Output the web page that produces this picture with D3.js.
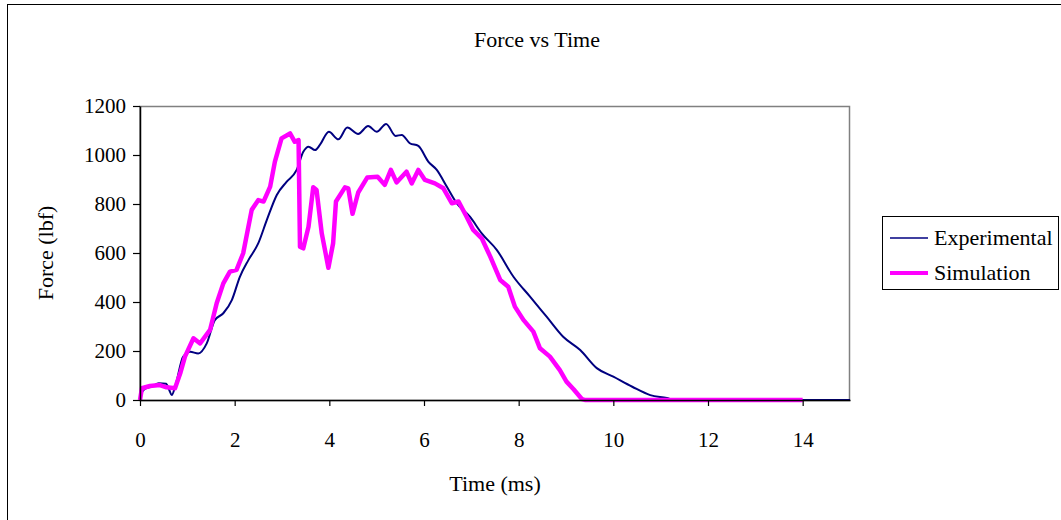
<!DOCTYPE html>
<html>
<head>
<meta charset="utf-8">
<script src="https://cdn.jsdelivr.net/npm/d3@7"></script>
<style>
  body { margin: 0; background: #fff; }
  text { font-family: "Times New Roman", "Liberation Serif", serif; fill: #000; }
</style>
</head>
<body>
<div id="chart"></div>
<script>
// data: time in ms, force in lbf
var expTime  = [0, 0.1, 0.25, 0.4, 0.55, 0.62, 0.67, 0.75, 0.91, 1.06, 1.23, 1.41, 1.58, 1.76, 1.94, 2.11, 2.29, 2.5, 2.68, 2.89, 3.1, 3.31, 3.45, 3.56, 3.7, 3.8, 3.99, 4.19, 4.38, 4.61, 4.82, 5.0, 5.2, 5.4, 5.53, 5.7, 5.88, 6.09, 6.27, 6.48, 6.69, 6.97, 7.22, 7.54, 7.89, 8.24, 8.59, 8.94, 9.3, 9.65, 10.0, 10.4, 10.78, 11.13, 11.3, 15];
var expForce = [20, 45, 55, 68, 66, 40, 20, 60, 176, 197, 190, 231, 326, 354, 408, 503, 571, 640, 735, 837, 891, 939, 1013, 1034, 1020, 1041, 1095, 1064, 1112, 1086, 1118, 1095, 1127, 1078, 1082, 1048, 1037, 973, 939, 871, 803, 748, 680, 612, 503, 422, 340, 258, 204, 130, 95, 54, 20, 8, 0, 0];

var simTime  = [0, 0.04, 0.21, 0.42, 0.56, 0.74, 0.85, 0.95, 1.13, 1.27, 1.48, 1.62, 1.76, 1.9, 2.04, 2.18, 2.36, 2.5, 2.61, 2.75, 2.85, 2.99, 3.17, 3.27, 3.35, 3.38, 3.45, 3.56, 3.66, 3.73, 3.84, 3.98, 4.08, 4.14, 4.33, 4.4, 4.49, 4.61, 4.8, 5.02, 5.17, 5.3, 5.42, 5.63, 5.74, 5.88, 6.02, 6.23, 6.41, 6.59, 6.73, 6.9, 7.04, 7.22, 7.4, 7.61, 7.78, 7.92, 8.1, 8.31, 8.45, 8.66, 8.87, 9.01, 9.16, 9.33, 9.4, 14];
var simForce = [0, 48, 57, 61, 52, 48, 109, 177, 252, 231, 286, 395, 476, 524, 531, 599, 776, 816, 810, 871, 973, 1068, 1088, 1054, 1061, 626, 619, 707, 868, 857, 680, 540, 640, 810, 868, 864, 760, 847, 908, 911, 878, 939, 888, 932, 884, 939, 898, 884, 864, 803, 810, 748, 694, 660, 585, 490, 462, 381, 327, 279, 211, 177, 122, 75, 44, 5, 0, 0];

var xTicks = [0, 2, 4, 6, 8, 10, 12, 14];
var yTicks = [0, 200, 400, 600, 800, 1000, 1200];

var seriesNames  = ["Experimental", "Simulation"];
var seriesColors = ["#000080", "#ff00ff"];
var seriesWidths = [2, 4.5];

var W = 1061, H = 520;
var plot = {left: 140, top: 106, right: 850, bottom: 400};

var x = d3.scaleLinear().domain([0, 15]).range([plot.left, plot.right]);
var y = d3.scaleLinear().domain([0, 1200]).range([plot.bottom, plot.top]);

var svg = d3.select("#chart").append("svg")
    .attr("width", W)
    .attr("height", H);

// outer chart border
svg.append("rect")
    .attr("x", 7.5).attr("y", 4.5)
    .attr("width", 1100).attr("height", 600)
    .attr("fill", "#fff")
    .attr("stroke", "#000");

// plot area frame (grey)
svg.append("rect")
    .attr("x", plot.left).attr("y", plot.top + 0.5)
    .attr("width", plot.right - plot.left - 0.5)
    .attr("height", plot.bottom - plot.top)
    .attr("fill", "none")
    .attr("stroke", "#808080")
    .attr("stroke-width", 1.5);

var expLine = d3.line()
    .curve(d3.curveMonotoneX)
    .x(function(d) { return x(d[0]); })
    .y(function(d) { return y(d[1]); });

var simLine = d3.line()
    .x(function(d) { return x(d[0]); })
    .y(function(d) { return y(d[1]); });

var expData = d3.zip(expTime, expForce);
var simData = d3.zip(simTime, simForce);

[[expData, expLine], [simData, simLine]].forEach(function(s, i) {
  svg.append("path")
      .datum(s[0])
      .attr("d", s[1])
      .attr("fill", "none")
      .attr("stroke", seriesColors[i])
      .attr("stroke-width", seriesWidths[i])
      .attr("stroke-linejoin", "round")
      .attr("stroke-linecap", "butt");
});

// axes
var xAxis = svg.append("g")
    .attr("transform", "translate(0," + plot.bottom + ")")
    .call(d3.axisBottom(x).tickValues(xTicks).tickSize(6).tickPadding(26).tickSizeOuter(0));

var yAxis = svg.append("g")
    .attr("transform", "translate(" + plot.left + ",0)")
    .call(d3.axisLeft(y).tickValues(yTicks).tickFormat(d3.format("d")).tickSize(7).tickPadding(7).tickSizeOuter(0));

[xAxis, yAxis].forEach(function(g) {
  g.select(".domain").attr("stroke", "#000").attr("stroke-width", 1.5);
  g.selectAll(".tick line").attr("stroke", "#000").attr("stroke-width", 1.2);
  g.selectAll(".tick text")
      .attr("font-family", "'Times New Roman', 'Liberation Serif', serif")
      .attr("font-size", 21)
      .attr("fill", "#000");
});

// titles
svg.append("text")
    .attr("x", 537).attr("y", 47)
    .attr("text-anchor", "middle")
    .attr("font-size", 22)
    .text("Force vs Time");

svg.append("text")
    .attr("x", (plot.left + plot.right) / 2).attr("y", 491)
    .attr("text-anchor", "middle")
    .attr("font-size", 22)
    .text("Time (ms)");

svg.append("text")
    .attr("transform", "translate(53," + ((plot.top + plot.bottom) / 2) + ") rotate(-90)")
    .attr("text-anchor", "middle")
    .attr("font-size", 22)
    .text("Force (lbf)");

// legend
var legend = svg.append("g").attr("transform", "translate(882,216)");
legend.append("rect")
    .attr("x", 0.5).attr("y", 0.5)
    .attr("width", 176).attr("height", 73)
    .attr("fill", "#fff")
    .attr("stroke", "#000");

seriesNames.forEach(function(name, i) {
  var ly = 22 + i * 35;
  legend.append("line")
      .attr("x1", 8).attr("x2", 46)
      .attr("y1", ly).attr("y2", ly)
      .attr("stroke", seriesColors[i])
      .attr("stroke-width", seriesWidths[i] - 0.5);
  legend.append("text")
      .attr("x", 52).attr("y", ly + 7)
      .attr("font-size", 22)
      .text(name);
});
</script>
</body>
</html>
